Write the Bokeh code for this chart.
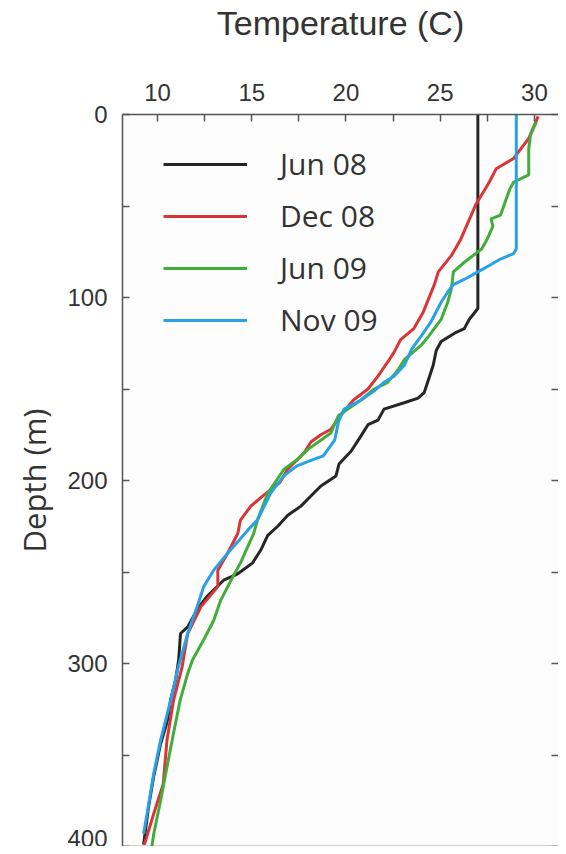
from bokeh.plotting import figure
from bokeh.models import Range1d, FixedTicker, LinearAxis, Legend, LegendItem
from bokeh.embed import file_html
from bokeh.resources import INLINE

# Temperature (C) vs depth (m)
jun08_depth = [0, 106, 112, 117, 119, 124, 129, 137, 152, 155, 157.5, 161, 167, 169.5, 175.6, 184, 191, 197.5, 203,
               208.5, 214, 219, 225, 230, 238, 245, 251, 254.5, 263, 270, 280, 283.6, 298, 309, 320, 331, 344, 362,
               378.5, 399]
jun08_temp = [27.0, 27.0, 26.54, 26.28, 25.85, 25.05, 24.79, 24.63, 24.15, 23.83, 23.09, 22.02, 21.70, 21.17, 20.80,
              20.27, 19.63, 19.47, 18.67, 18.14, 17.61, 16.91, 16.38, 15.85, 15.48, 15.05, 14.26, 13.51, 12.66, 12.13,
              11.60, 11.22, 11.12, 10.96, 10.69, 10.53, 10.16, 9.79, 9.52, 9.26]

dec08_depth = [1, 13, 24, 29.6, 38, 49, 55, 68, 77, 86, 92.7, 108, 117, 123, 130, 135.5, 143, 150, 156, 164.6, 172,
               175, 179, 185, 194, 201, 208, 214, 221.6, 229, 240, 249, 258, 269, 283.6, 302, 320, 342, 366, 382, 399]
dec08_temp = [30.2, 29.7, 28.9, 27.98, 27.55, 26.9, 26.65, 26.1, 25.6, 24.9, 24.7, 24.1, 23.6, 22.9, 22.55, 22.2,
              21.7, 21.17, 20.4, 19.7, 19.2, 18.67, 18.14, 17.77, 16.9, 16.5, 15.64, 14.95, 14.4, 14.26, 13.7, 13.2,
              13.2, 12.3, 11.6, 11.3, 10.85, 10.5, 10.3, 9.8, 9.3]

jun09_depth = [4, 11, 18.6, 33, 37, 40.6, 55, 57, 61, 68, 73.5, 80.6, 86, 95, 102.6, 112, 121, 126, 134, 139, 146.5,
               150, 156, 161, 164.6, 174, 177.7, 183, 188.7, 194, 207, 221.6, 229, 245, 254.5, 265.5, 276.5, 287, 298,
               305.5, 320, 338, 356.5, 375, 393, 400]
jun09_temp = [30.1, 29.8, 29.7, 29.7, 28.9, 28.7, 28.2, 27.7, 27.8, 27.5, 27.2, 26.3, 25.7, 25.6, 25.4, 25.05, 24.4,
              24.0, 23.1, 22.8, 22.2, 21.5, 20.8, 20.1, 19.6, 19.2, 18.7, 17.98, 17.4, 16.7, 15.85, 15.3, 15.1, 14.4,
              13.9, 13.35, 12.98, 12.45, 11.86, 11.6, 11.2, 10.85, 10.5, 10.16, 9.8, 9.7]

nov09_depth = [0, 73.5, 76, 79, 82, 86, 90, 93, 97, 102.6, 113.5, 121, 128, 137, 143, 146.5, 151, 156, 161, 168, 178,
               186.5, 189, 192, 197.5, 207, 221.6, 227, 240, 249, 258, 269, 283.6, 302, 320, 342, 360, 378.5, 393]
nov09_temp = [29.04, 29.04, 28.9, 28.2, 27.7, 27.0, 26.3, 25.7, 25.4, 25.05, 24.5, 24.0, 23.5, 23.1, 22.55, 22.0, 21.5,
              20.8, 19.9, 19.6, 19.4, 18.8, 18.14, 17.4, 16.7, 16.0, 15.3, 14.8, 13.7, 12.98, 12.45, 12.1, 11.6, 11.1,
              10.7, 10.16, 9.8, 9.5, 9.26]

series_names = ["Jun 08", "Dec 08", "Jun 09", "Nov 09"]
series_temps = [jun08_temp, dec08_temp, jun09_temp, nov09_temp]
series_depths = [jun08_depth, dec08_depth, jun09_depth, nov09_depth]
series_colors = ["#262626", "#d93535", "#42ad3a", "#2aa0e6"]

x_major = [10, 15, 20, 25, 30]
x_minor = [12.5, 17.5, 22.5, 27.5]
y_major = [0, 100, 200, 300, 400]
y_minor = [50, 150, 250, 350]
y_all = [0, 50, 100, 150, 200, 250, 300, 350, 400]

AX = "#555555"
TICK_FONT = "Liberation Sans"

p = figure(width=558, height=846, output_backend="svg", toolbar_location=None,
           x_axis_location="above",
           x_range=Range1d(8.14, 31.28), y_range=Range1d(400, 0),
           min_border_left=122, min_border_right=0, min_border_top=113, min_border_bottom=0,
           background_fill_color="#fdfdfd", border_fill_color="#ffffff")
p.outline_line_color = None
p.grid.visible = False

xa = p.xaxis[0]
xa.ticker = FixedTicker(ticks=x_major, minor_ticks=x_minor)
xa.axis_label = "Temperature (C)"
xa.axis_label_text_font = TICK_FONT
xa.axis_label_text_font_size = "34px"
xa.axis_label_text_font_style = "normal"
xa.axis_label_text_color = "#333333"
xa.axis_label_standoff = 39

ya = p.yaxis[0]
ya.ticker = FixedTicker(ticks=y_major, minor_ticks=y_minor)
ya.axis_label = "Depth (m)"
ya.axis_label_text_font = "Open Sans"
ya.axis_label_text_font_size = "31px"
ya.axis_label_text_font_style = "normal"
ya.axis_label_text_color = "#333333"
ya.axis_label_standoff = 9

for ax in (xa, ya):
    ax.axis_line_color = AX
    ax.axis_line_width = 1.5
    ax.major_tick_line_color = AX
    ax.minor_tick_line_color = AX
    ax.major_tick_line_width = 1.5
    ax.minor_tick_line_width = 1.5
    ax.major_tick_in = 7
    ax.major_tick_out = 0
    ax.minor_tick_in = 7
    ax.minor_tick_out = 0
    ax.major_label_text_font = TICK_FONT
    ax.major_label_text_font_size = "24px"
    ax.major_label_text_color = "#333333"
xa.major_label_standoff = 14
ya.major_label_standoff = 15

# right axis: ticks only (frame edge cut at the picture's edge)
ra = LinearAxis(ticker=FixedTicker(ticks=[], minor_ticks=y_all),
                axis_line_color=None, major_tick_line_color=None, minor_tick_line_color=AX,
                minor_tick_line_width=1.5, minor_tick_in=7, minor_tick_out=0,
                major_label_standoff=0)
p.add_layout(ra, "right")

# bottom axis: line only
ba = LinearAxis(ticker=FixedTicker(ticks=[]), axis_line_color=AX, axis_line_width=1.5,
                major_tick_line_color=None, minor_tick_line_color=None, major_label_standoff=0)
p.add_layout(ba, "below")

items = []
for name, t, d, c in zip(series_names, series_temps, series_depths, series_colors):
    r = p.line(t, d, line_color=c, line_width=3)
    items.append(LegendItem(label=name, renderers=[r]))

leg = Legend(items=items, location=(41, 506))
leg.background_fill_alpha = 0
leg.border_line_color = None
leg.margin = 0
leg.padding = 0
leg.glyph_width = 84
leg.glyph_height = 20
leg.label_standoff = 33
leg.spacing = 11
leg.label_text_font = "Open Sans"
leg.label_text_font_size = "30px"
leg.label_text_color = "#333333"
p.add_layout(leg)

open("out.html", "w").write(file_html(p, INLINE))
